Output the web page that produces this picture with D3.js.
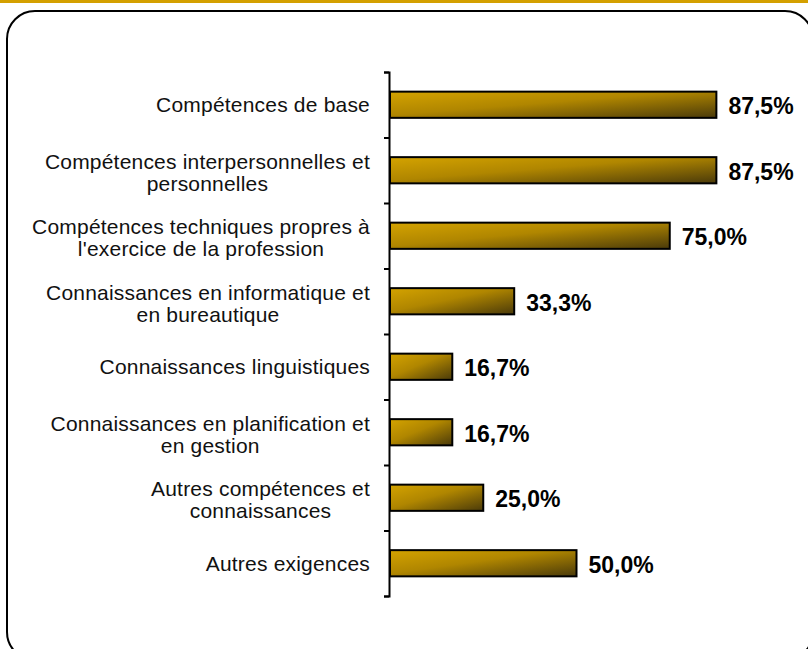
<!DOCTYPE html>
<html>
<head>
<meta charset="utf-8">
<script src="https://cdn.jsdelivr.net/npm/d3@7"></script>
<style>
  body { margin: 0; background: #fff; }
  svg { display: block; font-family: "Liberation Sans", Arial, sans-serif; }
</style>
</head>
<body>
<div id="chart"></div>
<script>
// data
var categories = [
  ['Compétences de base'],
  ['Compétences interpersonnelles et', 'personnelles'],
  ['Compétences techniques propres à', "l'exercice de la profession"],
  ['Connaissances en informatique et', 'en bureautique'],
  ['Connaissances linguistiques'],
  ['Connaissances en planification et', 'en gestion'],
  ['Autres compétences et', 'connaissances'],
  ['Autres exigences']
];
var values = [87.5, 87.5, 75.0, 33.3, 16.7, 16.7, 25.0, 50.0];

var w = 808;
var h = 649;
var axisX = 389;
var labelRight = 370;

var svg = d3.select('#chart')
  .append('svg')
    .attr('width', w)
    .attr('height', h);

var defs = svg.append('defs');
var grad = defs.append('linearGradient')
    .attr('id', 'barGrad')
    .attr('x1', 0).attr('y1', 0)
    .attr('x2', 1).attr('y2', 1);
grad.append('stop').attr('offset', '0%').attr('stop-color', '#d4a300');
grad.append('stop').attr('offset', '45%').attr('stop-color', '#b08600');
grad.append('stop').attr('offset', '100%').attr('stop-color', '#4a3a0a');

// gold band at the very top
svg.append('rect')
    .attr('x', 0).attr('y', 0)
    .attr('width', w).attr('height', 3)
    .attr('fill', '#d4a000');

// rounded frame, partly off the page
svg.append('rect')
    .attr('x', 7).attr('y', 11)
    .attr('width', 806).attr('height', 649)
    .attr('rx', 28).attr('ry', 28)
    .attr('fill', 'none')
    .attr('stroke', '#000')
    .attr('stroke-width', 2);

var yScale = d3.scaleBand()
  .domain(d3.range(categories.length))
  .range([72, 596])
  .paddingInner(0.6)
  .paddingOuter(0.3);

var xScale = d3.scaleLinear()
  .domain([0, 100])
  .range([axisX + 1, axisX + 374]);

// axis with ticks between categories
var tickScale = d3.scaleLinear()
  .domain([0, categories.length])
  .range([72, 596]);

var axis = d3.axisLeft(tickScale)
  .ticks(categories.length)
  .tickSize(5)
  .tickSizeOuter(5)
  .tickFormat('');

var axisG = svg.append('g')
    .attr('transform', 'translate(' + axisX + ',0)')
    .call(axis);
axisG.selectAll('path, line')
    .attr('stroke', '#000')
    .attr('stroke-width', 2);

// bars
svg.selectAll('.bar')
  .data(values)
  .enter()
  .append('rect')
    .attr('class', 'bar')
    .attr('x', xScale(0))
    .attr('y', (d, i) => yScale(i))
    .attr('width', d => xScale(d) - xScale(0))
    .attr('height', yScale.bandwidth())
    .attr('fill', 'url(#barGrad)')
    .attr('stroke', '#000')
    .attr('stroke-width', 2);

// value labels
svg.selectAll('.value')
  .data(values)
  .enter()
  .append('text')
    .attr('class', 'value')
    .attr('x', d => xScale(d) + 12)
    .attr('y', (d, i) => yScale(i) + yScale.bandwidth() / 2)
    .attr('dy', '0.42em')
    .attr('font-size', 23)
    .attr('font-weight', 'bold')
    .attr('fill', '#000')
    .text(d => d.toFixed(1).replace('.', ',') + '%');

// category labels: right aligned block, lines centred inside it
var lineH = 22;
categories.forEach(function(lines, i) {
  var cy = yScale(i) + yScale.bandwidth() / 2 + (lines.length > 1 ? 2 : 0);
  var g = svg.append('g').attr('class', 'cat-label');
  var texts = g.selectAll('text')
    .data(lines)
    .enter()
    .append('text')
      .attr('font-size', 21)
      .attr('letter-spacing', 0.2)
      .attr('fill', '#111')
      .attr('text-anchor', 'middle')
      .attr('y', (d, j) => cy + (j - (lines.length - 1) / 2) * lineH)
      .attr('dy', '0.35em')
      .text(d => d);
  var maxW = d3.max(texts.nodes(), n => n.getComputedTextLength());
  texts.attr('x', labelRight - maxW / 2);
});
</script>
</body>
</html>
